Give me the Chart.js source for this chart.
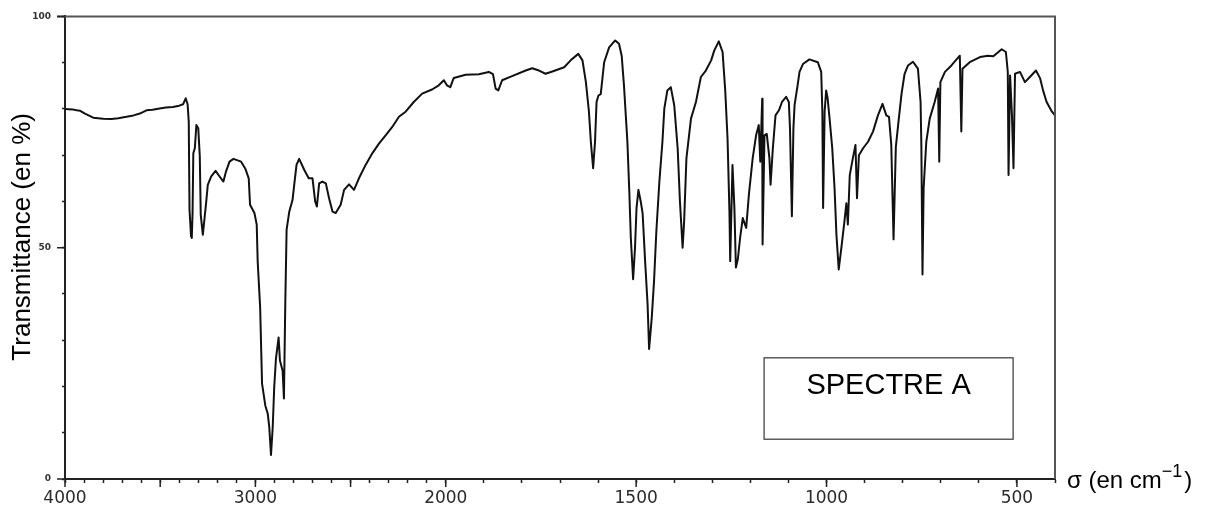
<!DOCTYPE html>
<html>
<head>
<meta charset="utf-8">
<script src="https://cdn.jsdelivr.net/npm/chart.js@4.4.1/dist/chart.umd.min.js"></script>
<style>
  html, body { margin: 0; padding: 0; background: #fff; }
  #wrap { width: 1216px; height: 511px; }
</style>
</head>
<body>
<div id="wrap"><canvas id="c" width="1216" height="511"></canvas></div>
<script>
// ---------------- DATA ----------------
const wavenumbers = [
  4000, 3960, 3939, 3920, 3895, 3852, 3800, 3756, 3720, 3677, 3640, 3607, 3572, 3540, 3503, 3470, 3433, 3400, 3380, 3366,
  3356, 3350, 3346, 3338, 3334, 3330, 3326, 3318, 3310, 3300, 3292, 3287, 3276, 3267, 3258, 3250, 3232, 3209, 3188, 3168,
  3154, 3136, 3115, 3075, 3052, 3035, 3028, 3005, 2993, 2988, 2975, 2965, 2948, 2935, 2927, 2918, 2909, 2901, 2892, 2878,
  2871, 2857, 2850, 2843, 2836, 2822, 2805, 2796, 2784, 2770, 2743, 2720, 2700, 2686, 2677, 2665, 2648, 2630, 2613, 2595,
  2578, 2552, 2534, 2508, 2482, 2456, 2421, 2386, 2351, 2316, 2281, 2246, 2211, 2168, 2124, 2072, 2037, 2010, 1997, 1988,
  1979, 1948, 1913, 1887, 1876, 1869, 1862, 1852, 1826, 1790, 1773, 1755, 1738, 1720, 1689, 1672, 1652, 1641, 1632, 1624,
  1619, 1613, 1608, 1604, 1599, 1593, 1584, 1571, 1555, 1545, 1538, 1532, 1523, 1518, 1514, 1508, 1503, 1499, 1494, 1488,
  1483, 1476, 1470, 1466, 1459, 1453, 1447, 1439, 1431, 1426, 1418, 1409, 1400, 1391, 1385, 1378, 1374, 1368, 1356, 1343,
  1330, 1317, 1303, 1295, 1283, 1273, 1266, 1260, 1255, 1253, 1247, 1242, 1238, 1233, 1227, 1220, 1211, 1204, 1194, 1185,
  1178, 1174, 1169, 1168, 1163, 1157, 1150, 1147, 1141, 1134, 1125, 1117, 1106, 1099, 1096, 1091, 1087, 1084, 1076, 1071,
  1062, 1045, 1023, 1014, 1011, 1009, 1005, 1001, 997, 992, 985, 979, 974, 968, 961, 953, 948, 944, 939, 931,
  924, 920, 915, 904, 891, 878, 865, 853, 843, 836, 830, 824, 818, 812, 803, 795, 786, 773, 760, 753,
  751, 748, 745, 738, 729, 716, 707, 704, 701, 689, 672, 650, 646, 643, 624, 597, 576, 562, 540, 529,
  524, 522, 518, 513, 509, 505, 492, 479, 466, 450, 439, 431, 422, 408, 400
];
const transmittance = [
  80.0, 79.9, 79.7, 79.6, 79.0, 78.1, 77.9, 77.8, 78.0, 78.3, 78.6, 79.0, 79.7, 79.8, 80.1, 80.3, 80.4, 80.7, 81.0, 82.3,
  81.0, 77.2, 58.2, 52.5, 52.1, 57.5, 70.4, 71.5, 76.5, 75.8, 69.7, 57.1, 52.8, 56.4, 60.0, 63.6, 65.4, 66.6, 65.4, 64.3,
  66.5, 68.6, 69.2, 68.6, 67.0, 65.0, 59.3, 57.5, 55.0, 47.1, 37.1, 20.6, 15.9, 14.1, 11.2, 5.2, 11.2, 19.9, 26.0, 30.6,
  25.6, 23.4, 17.4, 37.8, 53.9, 57.8, 60.3, 63.6, 67.9, 69.2, 66.8, 65.0, 65.0, 60.0, 58.9, 63.9, 64.3, 63.9, 60.7, 57.8,
  57.5, 59.3, 62.5, 63.7, 62.5, 65.0, 67.9, 70.4, 72.5, 74.3, 76.1, 78.3, 79.4, 81.5, 83.3, 84.2, 85.1, 86.2, 85.1, 84.7,
  86.7, 87.4, 87.5, 88.0, 87.5, 84.4, 84.0, 86.2, 87.1, 88.3, 88.8, 88.3, 87.6, 88.1, 89.0, 90.5, 91.9, 90.5, 85.8, 79.4,
  72.9, 67.2, 72.9, 81.5, 82.9, 83.2, 90.1, 93.3, 94.8, 94.1, 91.5, 85.1, 72.9, 62.2, 52.1, 43.2, 50.0, 58.6, 62.5, 60.0,
  57.4, 46.4, 37.8, 28.1, 34.9, 42.8, 53.5, 64.3, 72.9, 80.1, 84.0, 84.7, 80.8, 71.5, 60.0, 50.0, 55.7, 69.3, 77.9, 81.5,
  86.9, 88.3, 90.5, 92.6, 94.6, 92.3, 83.9, 73.6, 57.8, 47.1, 67.9, 58.6, 45.7, 47.5, 52.1, 56.4, 54.3, 61.4, 69.3, 74.3,
  76.5, 68.6, 82.2, 50.7, 74.3, 74.6, 69.3, 63.6, 71.5, 78.6, 79.7, 81.5, 82.6, 81.5, 75.8, 56.8, 75.8, 80.8, 85.1, 88.0,
  89.7, 90.7, 90.1, 88.0, 79.4, 58.6, 79.4, 84.0, 82.2, 77.9, 71.5, 62.9, 52.8, 45.3, 50.0, 55.7, 59.6, 55.0, 65.7, 69.3,
  72.2, 60.7, 70.0, 71.5, 72.9, 75.1, 78.6, 81.1, 78.6, 78.3, 72.2, 51.8, 71.8, 76.5, 83.3, 87.6, 89.4, 90.2, 88.7, 81.5,
  72.2, 44.2, 62.9, 72.9, 77.9, 81.5, 84.4, 68.6, 85.8, 88.0, 89.4, 91.5, 75.1, 88.7, 90.1, 91.2, 91.5, 91.4, 92.9, 92.3,
  88.0, 65.7, 87.2, 78.6, 67.2, 87.6, 88.0, 85.8, 86.9, 88.3, 86.6, 83.9, 81.5, 79.4, 78.6
];

// Axis ticks and labels
const xTickValues = [];                       // one tick mark every 100 cm-1
for (let w = 4000; w >= 400; w -= 100) xTickValues.push(w);
const xMajorTicks = [4000, 3500, 3000, 2500, 2000, 1500, 1000, 500];
const xTickLabels = [4000, 3000, 2000, 1500, 1000, 500];
const yTickLabels = [0, 50, 100];

const xAxisTitle = 'σ (en cm';
const xAxisTitleSup = '−1';
const yAxisTitle = 'Transmittance (en %)';
const boxLabel = 'SPECTRE A';
// label box corners, in axis units (wavenumber, transmittance)
const boxCorners = { w0: 1164, w1: 510, t0: 26.2, t1: 8.6 };

// ---------------- IR scale: 4000-2000 compressed x2, 2000-400 expanded ----------------
const BREAK = 2000, HI = 4000, LO = 400;
const SPAN = (HI - BREAK) / 2 + (BREAK - LO);
class IRScale extends Chart.LinearScale {
  getPixelForValue(value) {
    if (value === null || value === undefined || isNaN(value)) return NaN;
    const u = value >= BREAK ? (HI - value) / 2 : (HI - BREAK) / 2 + (BREAK - value);
    return this.getPixelForDecimal(u / SPAN);
  }
  getValueForPixel(pixel) {
    const u = this.getDecimalForPixel(pixel) * SPAN;
    const half = (HI - BREAK) / 2;
    return u <= half ? HI - 2 * u : BREAK - (u - half);
  }
}
IRScale.id = 'irscale';
Chart.register(IRScale);

Chart.defaults.font.family = '"Liberation Sans", Arial, sans-serif';
Chart.defaults.color = '#000';

const decor = {
  id: 'decor',
  afterDraw(chart) {
    const { ctx, chartArea: a, scales: { x, y } } = chart;
    ctx.save();
    // top and right frame
    ctx.strokeStyle = '#555';
    ctx.lineWidth = 2;
    ctx.beginPath();
    ctx.moveTo(a.left - 8, a.top);
    ctx.lineTo(a.right, a.top);
    ctx.lineTo(a.right, a.bottom);
    ctx.stroke();
    // longer major tick marks
    ctx.strokeStyle = '#222';
    ctx.lineWidth = 1.5;
    ctx.beginPath();
    xMajorTicks.forEach(v => {
      const px = x.getPixelForValue(v);
      ctx.moveTo(px, a.bottom); ctx.lineTo(px, a.bottom + 8);
    });
    yTickLabels.forEach(v => {
      const py = y.getPixelForValue(v);
      ctx.moveTo(a.left - 8, py); ctx.lineTo(a.left, py);
    });
    ctx.stroke();
    // label box
    const bx0 = x.getPixelForValue(boxCorners.w0), bx1 = x.getPixelForValue(boxCorners.w1);
    const by0 = y.getPixelForValue(boxCorners.t0), by1 = y.getPixelForValue(boxCorners.t1);
    ctx.strokeStyle = '#444';
    ctx.lineWidth = 1.3;
    ctx.strokeRect(bx0, by0, bx1 - bx0, by1 - by0);
    ctx.fillStyle = '#000';
    ctx.font = '29px "Liberation Sans", Arial, sans-serif';
    ctx.textAlign = 'center';
    ctx.textBaseline = 'alphabetic';
    ctx.fillText(boxLabel, (bx0 + bx1) / 2, by0 + 36);
    // x axis title at the right end of the axis
    ctx.textAlign = 'left';
    let tx = a.right + 12;
    const base = a.bottom + 9;
    ctx.font = '24px "Liberation Sans", Arial, sans-serif';
    ctx.fillText(xAxisTitle, tx, base);
    tx += ctx.measureText(xAxisTitle).width;
    ctx.font = '18px "Liberation Sans", Arial, sans-serif';
    ctx.fillText(xAxisTitleSup, tx, base - 11);
    tx += ctx.measureText(xAxisTitleSup).width + 2;
    ctx.font = '24px "Liberation Sans", Arial, sans-serif';
    ctx.fillText(')', tx, base);
    ctx.restore();
  }
};

new Chart(document.getElementById('c'), {
  type: 'line',
  data: {
    datasets: [{
      data: wavenumbers.map((w, i) => ({ x: w, y: transmittance[i] })),
      borderColor: '#111',
      borderWidth: 2,
      borderJoinStyle: 'round',
      pointRadius: 0,
      tension: 0,
      fill: false
    }]
  },
  options: {
    responsive: false,
    animation: false,
    layout: { padding: { left: 0, right: 161, top: 14, bottom: 0 } },
    plugins: { legend: { display: false }, tooltip: { enabled: false } },
    scales: {
      x: {
        type: 'irscale',
        min: LO,
        max: HI,
        afterBuildTicks: s => { s.ticks = xTickValues.map(v => ({ value: v })); },
        afterFit: s => { s.height = 32; },
        border: { display: true, color: '#222', width: 2 },
        grid: { drawOnChartArea: false, drawTicks: true, tickLength: 4, tickColor: '#222', tickWidth: 1.5 },
        ticks: {
          autoSkip: false,
          maxRotation: 0,
          minRotation: 0,
          padding: 5,
          color: '#2a2a2a',
          font: { family: '"DejaVu Sans", Verdana, sans-serif', size: 17 },
          callback: v => (xTickLabels.includes(v) ? String(v) : '')
        }
      },
      y: {
        type: 'linear',
        min: 0,
        max: 100,
        afterFit: s => { s.width = 65; },
        border: { display: true, color: '#222', width: 2 },
        grid: { drawOnChartArea: false, drawTicks: true, tickLength: 3, tickColor: '#222', tickWidth: 1.5 },
        ticks: {
          stepSize: 10,
          autoSkip: false,
          padding: 11,
          color: '#333',
          font: { family: '"DejaVu Sans", Verdana, sans-serif', size: 9, weight: 'bold' },
          callback: v => (yTickLabels.includes(v) ? String(v) : '')
        },
        title: {
          display: true,
          text: '   ' + yAxisTitle,
          color: '#000',
          font: { size: 26 },
          padding: { top: 7, bottom: 0 }
        }
      }
    }
  },
  plugins: [decor]
});
</script>
</body>
</html>
